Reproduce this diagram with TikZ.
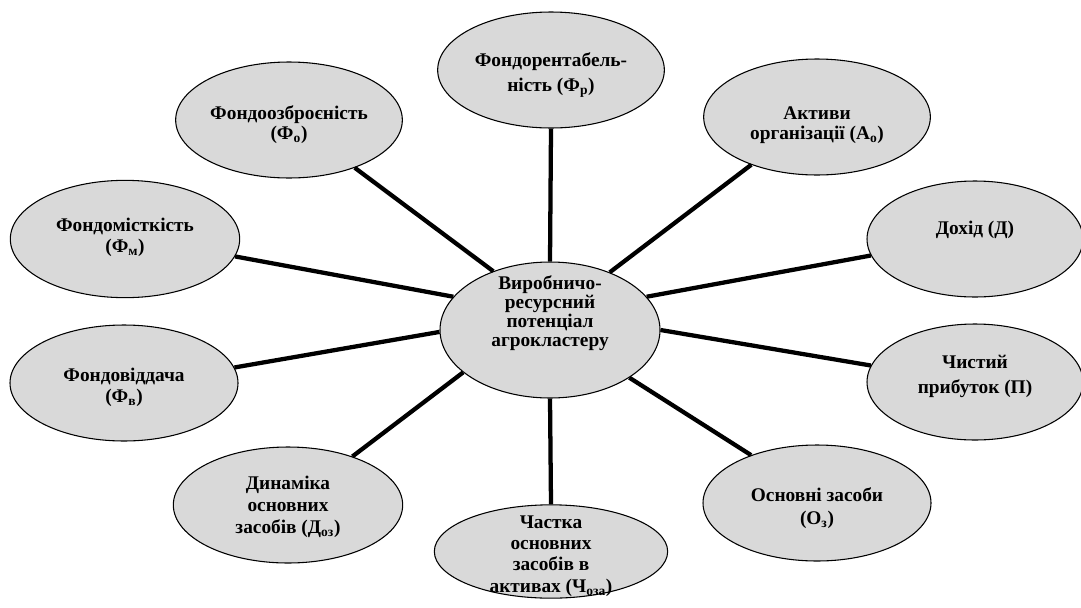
\documentclass[tikz,border=0pt]{standalone}
\usepackage{fontspec}
\setmainfont{Liberation Serif}
\usetikzlibrary{shapes.geometric}
\definecolor{ellfill}{RGB}{217,217,217}
\tikzset{
  ell/.style={ellipse, draw=black, line width=0.8pt, fill=ellfill, inner sep=0pt,
    minimum width=170pt, minimum height=87pt},
  txt/.style={inner sep=0pt, align=center, font=\fontsize{14.5}{16.5}\selectfont\bfseries},
  lead/.style={font=\fontsize{14.5}{#1}\selectfont\bfseries},
  spoke/.style={line width=3.2pt, black}
}
\begin{document}
\begin{tikzpicture}[x=0.75pt,y=-0.75pt]
\clip (0,0) rectangle (1081,607);
\fill[white] (0,0) rectangle (1081,607);
% ellipses
\node[ell, minimum width=165pt, minimum height=102pt] (c) at (550,330) {};
\node[ell] (fr) at (551,70) {};
\node[ell] (fo) at (289,120) {};
\node[ell] (ao) at (817,117) {};
\node[ell, minimum width=172pt, minimum height=88pt] (fm) at (125,239) {};
\node[ell, minimum width=162pt] (d) at (975,239) {};
\node[ell, minimum width=171pt] (fv) at (124,383) {};
\node[ell, minimum width=162pt] (p) at (975,382) {};
\node[ell, minimum width=172pt] (doz) at (288,505) {};
\node[ell, minimum width=171pt] (oz) at (817,503) {};
\node[ell, minimum width=175pt, minimum height=70pt] (ch) at (551,551.5) {};
% texts
\node[txt, lead=14.25pt] (tc) at (550,313) {Виробничо-\\ресурсний\\потенціал\\агрокластеру};
\node[txt, lead=18.75pt] (tfr) at (551,75) {Фондорентабель-\\ність (Ф\textsubscript{р})};
\node[txt, lead=15pt] (tfo) at (289,125) {Фондоозброєність\\(Ф\textsubscript{о})};
\node[txt, lead=15pt] (tao) at (817,125) {Активи\\організації (А\textsubscript{о})};
\node[txt, lead=15.75pt] (tfm) at (125,237) {Фондомісткість\\(Ф\textsubscript{м})};
\node[txt] (td) at (975,230) {Дохід (Д)};
\node[txt, lead=15.75pt] (tfv) at (124,387) {Фондовіддача\\(Ф\textsubscript{в})};
\node[txt, lead=18.75pt] (tp) at (975,376) {Чистий\\прибуток (П)};
\node[txt, lead=16.5pt] (tdoz) at (288,507) {Динаміка\\основних\\засобів (Д\textsubscript{оз})};
\node[txt, lead=17.25pt] (toz) at (817,508) {Основні засоби\\(О\textsubscript{з})};
\begin{scope}
\clip (0,0) rectangle (1081,596.5);
\node[txt, lead=16pt] (tch) at (551,556) {Частка\\основних\\засобів в\\активах (Ч\textsubscript{оза})};
\end{scope}
% connectors
\draw[spoke] (c.90) -- (fr.270);
\draw[spoke] (c.134) -- (fo.324);
\draw[spoke] (c.44) -- (ao.216);
\draw[spoke] (c.161) -- (fm.351.7);
\draw[spoke] (c.19.6) -- (d.189.4);
\draw[spoke] (c.181) -- (fv.8.6);
\draw[spoke] (c.0.5) -- (p.171);
\draw[spoke] (c.206) -- (doz.37.6);
\draw[spoke] (c.270) -- (ch.90);
\draw[spoke] (c.329.5) -- (oz.144.7);
\end{tikzpicture}
\end{document}
